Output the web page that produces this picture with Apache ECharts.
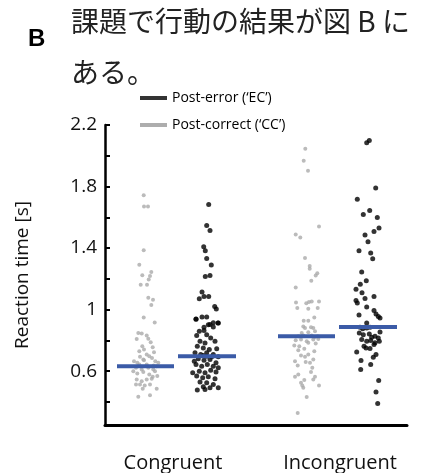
<!DOCTYPE html>
<html>
<head>
<meta charset="utf-8">
<script src="https://cdn.jsdelivr.net/npm/echarts@6/dist/echarts.min.js"></script>
<style>
  html, body { margin: 0; padding: 0; background: #fff; }
  #main { width: 423px; height: 473px; }
</style>
</head>
<body>
<div id="main"></div>
<script>
var categories = ['Congruent', 'Incongruent'];
var categoryPos = [68, 235];
var yTicks = [0.4, 0.6, 0.8, 1.0, 1.2, 1.4, 1.6, 1.8, 2.0, 2.2];
var yLabels = [0.6, 1, 1.4, 1.8, 2.2];

// post-correct (CC), congruent: reaction time [s] and horizontal jitter
var ccCongRT = [1.744, 1.670, 1.670, 1.386, 1.291, 1.245, 1.224, 1.219, 1.195, 1.161, 1.161, 1.077, 1.064, 1.030, 0.948, 0.917,
  0.848, 0.844, 0.831, 0.809, 0.811, 0.788, 0.762, 0.740, 0.755, 0.723, 0.729, 0.708, 0.697, 0.693, 0.686, 0.671,
  0.665, 0.654, 0.676, 0.665, 0.654, 0.632, 0.622, 0.611, 0.622, 0.611, 0.600, 0.585, 0.594, 0.578, 0.600, 0.568,
  0.563, 0.546, 0.535, 0.546, 0.550, 0.514, 0.507, 0.514, 0.486, 0.486, 0.514, 0.434, 0.443, 0.643, 0.643, 0.637];
var ccCongX = [38.7, 39, 43, 38.7, 34.3, 46.3, 37.3, 45, 43.7, 35.7, 42, 43.3, 48, 46.3, 38.7, 49.7,
  33.3, 36.7, 41.7, 31.7, 43.3, 45.7, 37.3, 39, 47.7, 49, 34.3, 41.7, 44.3, 35, 47, 39,
  29, 32.3, 38.3, 50.3, 53.3, 51.7, 31, 36.7, 43.3, 48.3, 28.3, 32.3, 38.3, 44.3, 50, 52.3,
  47.7, 31.7, 36.7, 41.7, 46.7, 35, 39.7, 45, 51.7, 37.7, 31, 33.3, 45, 34.3, 41.7, 48.7];

// post-error (EC), congruent
var ecCongRT = [1.683, 1.547, 1.515, 1.409, 1.383, 1.333, 1.290, 1.215, 1.222, 1.114, 1.086, 1.086, 1.070, 1.021, 1.004,
  0.937, 0.952, 0.885, 0.904, 0.915, 0.913,
  0.939, 0.952, 0.902, 0.913, 0.859, 0.865, 0.887, 0.831, 0.837, 0.816, 0.794, 0.783, 0.794, 0.762, 0.751, 0.740,
  0.745, 0.719, 0.708, 0.719, 0.708, 0.693, 0.680, 0.671, 0.676, 0.654, 0.643, 0.632, 0.643, 0.632, 0.622, 0.600,
  0.589, 0.606, 0.594, 0.568, 0.557, 0.563, 0.550, 0.529, 0.524, 0.514, 0.499, 0.492, 0.492, 0.477, 0.481, 0.589,
  0.665, 0.697, 0.693, 0.701];
var ecCongX = [103.7, 101.7, 105, 98.7, 100.3, 101.7, 106.3, 100.3, 105, 97, 99, 103.7, 94.3, 109.7, 111.3,
  91, 101.7, 99, 105, 108.3, 113,
  91, 97, 103.3, 113.3, 94.3, 99, 108.3, 91.7, 101.7, 105.7, 95, 100, 110, 92.3, 98.3, 104.3,
  111.7, 90, 95.7, 101.7, 108.3, 113.3, 93.3, 99, 105, 111, 91, 96.7, 102.3, 108.3, 113.3, 94.3,
  100, 105.7, 111, 91.7, 97.7, 103.3, 110, 95, 101.7, 108.3, 98.3, 105, 113.3, 92.3, 100, 87.7,
  89.3, 101.7, 106.7, 98.3];

// post-correct (CC), incongruent
var ccIncRT = [2.046, 1.968, 1.903, 1.541, 1.489, 1.468, 1.336, 1.284, 1.265, 1.236, 1.221, 1.187, 1.144,
  1.046, 1.010, 1.042, 1.049, 1.053, 1.053, 1.006, 1.010, 0.949, 0.928, 0.928, 0.891, 0.881, 0.885, 0.881,
  0.859, 0.848, 0.853,
  0.827, 0.831, 0.831, 0.822, 0.827, 0.801, 0.805, 0.794, 0.805, 0.809, 0.766, 0.762, 0.784, 0.779, 0.736,
  0.745, 0.730, 0.702, 0.693, 0.708, 0.665, 0.637, 0.659, 0.654, 0.676, 0.622, 0.594, 0.564, 0.579, 0.542,
  0.525, 0.564, 0.546, 0.507, 0.492, 0.507, 0.432, 0.328];
var ccIncX = [200.3, 198.7, 203, 214, 190.7, 195.3, 200, 204.7, 204.7, 212.3, 210.7, 206.3, 190.7,
  191, 192.3, 201.3, 204, 206.7, 214, 203.3, 212.7, 209.3, 198.7, 203.3, 198.3, 200, 206, 208.3,
  210, 196.7, 203.3,
  193.3, 198.3, 206.7, 210, 212.7, 190.7, 196, 201.7, 208.3, 213.3, 189.3, 194.3, 203.3, 210.7, 193.3,
  199.3, 209.3, 196, 200, 203.3, 190, 192.7, 200.7, 205, 208.3, 207.3, 206, 190, 193.3, 199.3,
  196, 210, 208.3, 214, 198.3, 197.3, 201.7, 192.7];

// post-error (EC), incongruent
var ecIncRT = [2.085, 2.100, 1.791, 1.717, 1.618, 1.644, 1.599, 1.530, 1.508, 1.485, 1.441, 1.383, 1.368, 1.331,
  1.245, 1.187, 1.165, 1.133, 1.109, 1.073, 1.086, 1.060, 1.043, 1.017, 0.965, 0.995, 0.971, 0.956, 0.945, 0.913,
  0.885, 0.876, 0.881, 0.885, 0.855, 0.848, 0.837, 0.842, 0.820, 0.827, 0.816, 0.805, 0.794, 0.799, 0.784,
  0.794, 0.762, 0.751, 0.747, 0.773, 0.725, 0.708, 0.691, 0.669, 0.643, 0.611, 0.540, 0.464, 0.389];
var ecIncX = [261.7, 264.3, 270.7, 252.3, 258.3, 264.7, 272.3, 274, 269, 260, 263, 254, 265.7, 267.7,
  256.7, 261.3, 255.3, 251, 257, 260, 269, 251, 252.3, 261.7, 254, 269, 271, 273.3, 275, 261.7,
  255, 257.7, 261.7, 265, 275, 254.3, 258.3, 264.3, 266.7, 270, 273.3, 256.7, 261.7, 265.7, 270,
  274.3, 259, 261, 265, 269, 251.7, 271, 268.3, 256, 265.7, 255.7, 273.7, 271, 272.7];

// group means [s] and the x-range of each mean bar
var means = [0.632, 0.697, 0.827, 0.887];
var meanSpans = [[12, 69], [73, 131], [173, 230], [234, 292]];

var nameEC = 'Post-error (\u2018EC\u2019)';
var nameCC = 'Post-correct (\u2018CC\u2019)';

function pairs(xs, ys) {
  return ys.map(function (v, i) { return [xs[i], v]; });
}

var meanSeries = means.map(function (m, i) {
  return {
    type: 'line',
    symbol: 'none',
    silent: true,
    z: 5,
    lineStyle: { color: '#3b5ba7', width: 4 },
    data: [[meanSpans[i][0], m], [meanSpans[i][1], m]]
  };
});

var myChart = echarts.init(document.getElementById('main'));

var option = {
  animation: false,
  textStyle: { fontFamily: 'Open Sans' },
  title: [
    { text: 'B', left: 28, top: 27, padding: 0, textStyle: { fontFamily: 'Liberation Sans', fontWeight: 'bold', fontSize: 24, color: '#000' } },
    { text: '課題で行動の結果が図 B に', left: 71, top: 7, padding: 0, textStyle: { fontFamily: 'Noto Sans CJK JP', fontWeight: 'normal', fontSize: 28, color: '#222' } },
    { text: 'ある。', left: 71, top: 58, padding: 0, textStyle: { fontFamily: 'Noto Sans CJK JP', fontWeight: 'normal', fontSize: 28, color: '#222' } }
  ],
  legend: {
    orient: 'vertical',
    left: 140,
    top: 91,
    padding: 0,
    itemWidth: 27,
    itemHeight: 4,
    itemGap: 13,
    textStyle: { fontSize: 14, color: '#000', fontFamily: 'Open Sans' },
    data: [
      { name: nameEC, icon: 'rect', itemStyle: { color: '#000' } },
      { name: nameCC, icon: 'rect', itemStyle: { color: '#999' } }
    ]
  },
  grid: { left: 105, right: 16, top: 125, bottom: 47 },
  xAxis: {
    type: 'value',
    min: 0,
    max: 302,
    axisLine: { lineStyle: { color: '#000', width: 3 } },
    axisTick: { show: false },
    splitLine: { show: false },
    axisLabel: {
      customValues: categoryPos,
      margin: 28,
      fontSize: 20,
      color: '#111',
      formatter: function (v) { return categories[categoryPos.indexOf(v)]; }
    }
  },
  yAxis: {
    type: 'value',
    min: 0.25,
    max: 2.2,
    name: 'Reaction time [s]',
    nameLocation: 'middle',
    nameGap: 73,
    nameTextStyle: { fontSize: 19, color: '#111' },
    axisLine: { show: true, lineStyle: { color: '#000', width: 2.5 } },
    axisTick: { show: true, inside: true, length: 5, customValues: yTicks, lineStyle: { color: '#000', width: 2 } },
    splitLine: { show: false },
    axisLabel: { customValues: yLabels, margin: 8, fontSize: 19, color: '#111' }
  },
  series: [
    {
      name: nameCC,
      type: 'scatter',
      symbolSize: 4,
      itemStyle: { color: '#aaaaaa' },
      data: pairs(ccCongX, ccCongRT).concat(pairs(ccIncX, ccIncRT))
    },
    {
      name: nameEC,
      type: 'scatter',
      symbolSize: 5,
      itemStyle: { color: '#000' },
      data: pairs(ecCongX, ecCongRT).concat(pairs(ecIncX, ecIncRT))
    }
  ].concat(meanSeries)
};

myChart.setOption(option);
</script>
</body>
</html>
